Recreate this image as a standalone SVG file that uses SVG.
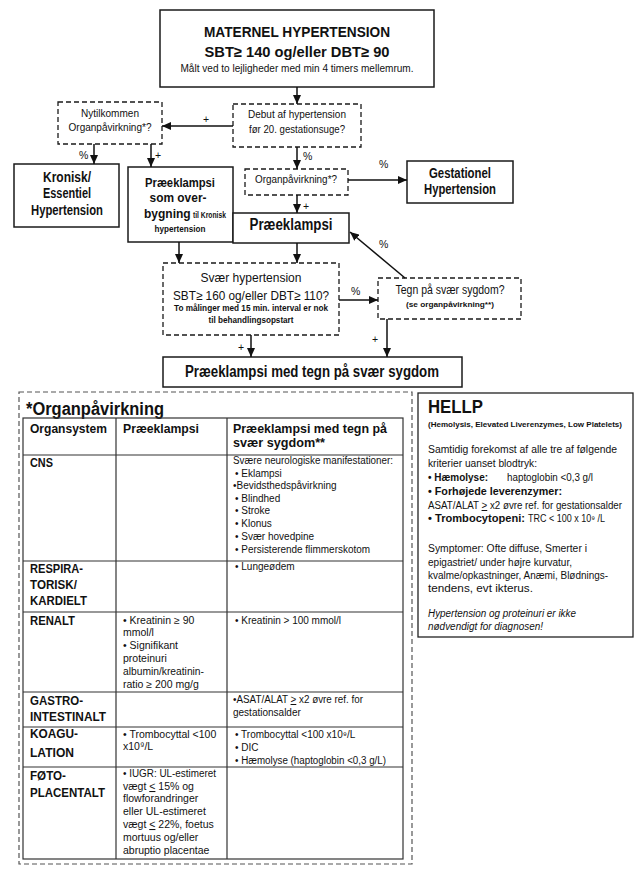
<svg xmlns="http://www.w3.org/2000/svg" width="644" height="880" viewBox="0 0 644 880">
<style>
text{font-family:"Liberation Sans",Arial,sans-serif;fill:#111}
.b{font-weight:bold}
.i{font-style:italic}
.m{text-anchor:middle}
.box{fill:#fff;stroke:#1a1a1a;stroke-width:1.5}
.dbox{fill:#fff;stroke:#1a1a1a;stroke-width:1.3;stroke-dasharray:5,3}
.conn line{stroke:#111;stroke-width:1.5;marker-end:url(#ah)}
.lbl{font-size:10.5px}
.tl{stroke:#333;stroke-width:1.2}
.u{text-decoration:underline}
</style>
<defs>
<marker id="ah" markerUnits="userSpaceOnUse" markerWidth="9" markerHeight="8" refX="9" refY="4" orient="auto">
<path d="M0,0 L9,4 L0,8 z" fill="#111"/>
</marker>
</defs>
<rect width="644" height="880" fill="#fff"/>

<g id="maternel">
<rect class="box" x="160" y="10" width="274" height="77"/>
<text class="b m" x="297" y="37" font-size="15" textLength="186" lengthAdjust="spacingAndGlyphs">MATERNEL HYPERTENSION</text>
<text class="b m" x="297" y="57" font-size="15" textLength="185" lengthAdjust="spacingAndGlyphs">SBT≥ 140 og/eller DBT≥ 90</text>
<text class="m" x="297" y="72" font-size="10.5" textLength="233" lengthAdjust="spacingAndGlyphs">Målt ved to lejligheder med min 4 timers mellemrum.</text>
</g>

<g id="debut">
<rect class="dbox" x="233" y="104" width="128" height="43"/>
<text class="m" x="297" y="118" font-size="11" textLength="98" lengthAdjust="spacingAndGlyphs">Debut af hypertension</text>
<text class="m" x="297" y="133" font-size="11" textLength="96" lengthAdjust="spacingAndGlyphs">før 20. gestationsuge?</text>
</g>

<g id="nytilkommen">
<rect class="dbox" x="58" y="102" width="104" height="42"/>
<text class="m" x="110" y="117" font-size="11" textLength="58" lengthAdjust="spacingAndGlyphs">Nytilkommen</text>
<text class="m" x="110" y="131" font-size="11" textLength="83" lengthAdjust="spacingAndGlyphs">Organpåvirkning*?</text>
</g>

<g id="kronisk">
<rect class="box" x="14" y="164" width="105" height="63"/>
<text class="b m" x="67" y="182" font-size="14" textLength="48" lengthAdjust="spacingAndGlyphs">Kronisk/</text>
<text class="b m" x="67" y="198" font-size="14" textLength="48" lengthAdjust="spacingAndGlyphs">Essentiel</text>
<text class="b m" x="67" y="215" font-size="14" textLength="72" lengthAdjust="spacingAndGlyphs">Hypertension</text>
</g>

<g id="overbygning">
<rect class="box" x="128" y="167" width="105" height="75"/>
<text class="b m" x="180" y="187" font-size="13.5" textLength="70" lengthAdjust="spacingAndGlyphs">Præeklampsi</text>
<text class="b m" x="178" y="202" font-size="13" textLength="57" lengthAdjust="spacingAndGlyphs">som over-</text>
<text class="b" x="144" y="218" font-size="12">bygning</text>
<text class="b" x="193" y="218" font-size="8.5" textLength="33" lengthAdjust="spacingAndGlyphs">til Kronisk</text>
<text class="b m" x="180" y="232" font-size="8.5" textLength="51" lengthAdjust="spacingAndGlyphs">hypertension</text>
</g>

<g id="praeeklampsi">
<rect class="box" x="233" y="213" width="116" height="30"/>
<text class="b m" x="291" y="230" font-size="16" textLength="83" lengthAdjust="spacingAndGlyphs">Præeklampsi</text>
</g>

<g id="organ">
<rect class="dbox" x="245" y="169" width="103" height="26"/>
<text class="m" x="296" y="183" font-size="11" textLength="82" lengthAdjust="spacingAndGlyphs">Organpåvirkning*?</text>
</g>

<g id="gestationel">
<rect class="box" x="407" y="161" width="106" height="42"/>
<text class="b m" x="460" y="178" font-size="14" textLength="62" lengthAdjust="spacingAndGlyphs">Gestationel</text>
<text class="b m" x="460" y="194" font-size="14" textLength="72" lengthAdjust="spacingAndGlyphs">Hypertension</text>
</g>

<g id="svaer">
<rect class="dbox" x="163" y="263" width="176" height="72"/>
<text class="m" x="251" y="282" font-size="13" textLength="101" lengthAdjust="spacingAndGlyphs">Svær hypertension</text>
<text class="m" x="251" y="300" font-size="13" textLength="156" lengthAdjust="spacingAndGlyphs">SBT≥ 160 og/eller DBT≥ 110?</text>
<text class="b m" x="251" y="311" font-size="8.5" textLength="154" lengthAdjust="spacingAndGlyphs">To målinger med 15 min. interval er nok</text>
<text class="b m" x="251" y="323" font-size="8.5" textLength="85" lengthAdjust="spacingAndGlyphs">til behandlingsopstart</text>
</g>

<g id="tegn">
<rect class="dbox" x="378" y="278" width="143" height="41"/>
<text class="m" x="450" y="294" font-size="12" textLength="109" lengthAdjust="spacingAndGlyphs">Tegn på svær sygdom?</text>
<text class="b m" x="450" y="307" font-size="8" textLength="88" lengthAdjust="spacingAndGlyphs">(se organpåvirkning**)</text>
</g>

<g id="svaer-sygdom">
<rect class="box" x="163" y="357" width="299" height="30"/>
<text class="b m" x="312" y="377" font-size="16" textLength="254" lengthAdjust="spacingAndGlyphs">Præeklampsi med tegn på svær sygdom</text>
</g>

<g id="connectors" class="conn">
<line x1="297" y1="87" x2="297" y2="104"/>
<line x1="233" y1="126" x2="162" y2="126"/>
<line x1="94" y1="144" x2="94" y2="164"/>
<line x1="151" y1="144" x2="151" y2="167"/>
<line x1="297" y1="147" x2="297" y2="169"/>
<line x1="348" y1="180" x2="407" y2="180"/>
<line x1="297" y1="195" x2="297" y2="213"/>
<line x1="179" y1="242" x2="179" y2="263"/>
<line x1="297" y1="243" x2="297" y2="263"/>
<line x1="339" y1="300" x2="378" y2="300"/>
<line x1="405" y1="278" x2="350" y2="232"/>
<line x1="251" y1="335" x2="251" y2="357"/>
<line x1="387" y1="319" x2="387" y2="357"/>
</g>

<g id="connector-labels" class="lbl">
<text x="203" y="123">+</text>
<text x="79" y="159">%</text>
<text x="155" y="159">+</text>
<text x="303" y="160">%</text>
<text x="379" y="168">%</text>
<text x="303" y="210">+</text>
<text x="351" y="295">%</text>
<text x="379" y="248">%</text>
<text x="238" y="351">+</text>
<text x="372" y="343">+</text>
</g>

<g id="organpaavirkning">
<rect x="19" y="392" width="393" height="472" fill="none" stroke="#555" stroke-width="1.2" stroke-dasharray="5,3"/>
<text class="b" x="26" y="415" font-size="18" textLength="138" lengthAdjust="spacingAndGlyphs">*Organpåvirkning</text>
<rect x="23" y="418" width="380" height="441" fill="none" class="tl"/>
<line class="tl" x1="116" y1="418" x2="116" y2="859"/>
<line class="tl" x1="227" y1="418" x2="227" y2="859"/>
<line class="tl" x1="23" y1="455" x2="403" y2="455"/>
<line class="tl" x1="23" y1="561" x2="403" y2="561"/>
<line class="tl" x1="23" y1="612" x2="403" y2="612"/>
<line class="tl" x1="23" y1="692" x2="403" y2="692"/>
<line class="tl" x1="23" y1="727" x2="403" y2="727"/>
<line class="tl" x1="23" y1="767" x2="403" y2="767"/>

<g class="b" font-size="13">
<text x="30" y="433" textLength="77" lengthAdjust="spacingAndGlyphs">Organsystem</text>
<text x="123" y="433" textLength="76" lengthAdjust="spacingAndGlyphs">Præeklampsi</text>
<text x="233" y="433" textLength="154" lengthAdjust="spacingAndGlyphs">Præeklampsi med tegn på</text>
<text x="233" y="447" textLength="92" lengthAdjust="spacingAndGlyphs">svær sygdom**</text>
<text x="30" y="467" textLength="23" lengthAdjust="spacingAndGlyphs">CNS</text>
<text x="30" y="573" textLength="53" lengthAdjust="spacingAndGlyphs">RESPIRA-</text>
<text x="30" y="589" textLength="47" lengthAdjust="spacingAndGlyphs">TORISK/</text>
<text x="30" y="605" textLength="57" lengthAdjust="spacingAndGlyphs">KARDIELT</text>
<text x="30" y="625" textLength="45" lengthAdjust="spacingAndGlyphs">RENALT</text>
<text x="30" y="705" textLength="53" lengthAdjust="spacingAndGlyphs">GASTRO-</text>
<text x="30" y="721" textLength="76" lengthAdjust="spacingAndGlyphs">INTESTINALT</text>
<text x="30" y="738" textLength="48" lengthAdjust="spacingAndGlyphs">KOAGU-</text>
<text x="30" y="757" textLength="44" lengthAdjust="spacingAndGlyphs">LATION</text>
<text x="30" y="780" textLength="36" lengthAdjust="spacingAndGlyphs">FØTO-</text>
<text x="30" y="797" textLength="75" lengthAdjust="spacingAndGlyphs">PLACENTALT</text>
</g>

<g font-size="10">
<text x="233" y="464" textLength="160" lengthAdjust="spacingAndGlyphs">Svære neurologiske manifestationer:</text>
<text x="235" y="477">• Eklampsi</text>
<text x="233" y="489">•Bevidsthedspåvirkning</text>
<text x="235" y="502">• Blindhed</text>
<text x="235" y="514">• Stroke</text>
<text x="235" y="527">• Klonus</text>
<text x="235" y="540">• Svær hovedpine</text>
<text x="235" y="553" textLength="135" lengthAdjust="spacingAndGlyphs">• Persisterende flimmerskotom</text>
<text x="235" y="570">• Lungeødem</text>
<text x="235" y="624">• Kreatinin &gt; 100 mmol/l</text>
<text x="233" y="703" textLength="130" lengthAdjust="spacingAndGlyphs">•ASAT/ALAT <tspan class="u">&gt;</tspan> x2 øvre ref. for</text>
<text x="233" y="716">gestationsalder</text>
<text x="235" y="738">• Trombocyttal &lt;100 x10⁹/L</text>
<text x="235" y="751">• DIC</text>
<text x="235" y="764" textLength="151" lengthAdjust="spacingAndGlyphs">• Hæmolyse (haptoglobin &lt;0,3 g/L)</text>
</g>

<g font-size="10.5">
<text x="123" y="624">• Kreatinin ≥ 90</text>
<text x="123" y="636">mmol/l</text>
<text x="123" y="649">• Signifikant</text>
<text x="123" y="662">proteinuri</text>
<text x="123" y="675" textLength="81" lengthAdjust="spacingAndGlyphs">albumin/kreatinin-</text>
<text x="123" y="688">ratio ≥ 200 mg/g</text>
<text x="123" y="738">• Trombocyttal &lt;100</text>
<text x="123" y="750">x10⁹/L</text>
<text x="123" y="777" textLength="93" lengthAdjust="spacingAndGlyphs">• IUGR: UL-estimeret</text>
<text x="123" y="790">vægt <tspan class="u">&lt;</tspan> 15% og</text>
<text x="123" y="802">flowforandringer</text>
<text x="123" y="815">eller UL-estimeret</text>
<text x="123" y="828">vægt <tspan class="u">&lt;</tspan> 22%, foetus</text>
<text x="123" y="841">mortuus og/eller</text>
<text x="123" y="854">abruptio placentae</text>
</g>
</g>

<g id="hellp">
<rect x="418" y="393" width="215" height="244" fill="#fff" stroke="#222" stroke-width="1.3"/>
<text class="b" x="428" y="413" font-size="18" textLength="55" lengthAdjust="spacingAndGlyphs">HELLP</text>
<text class="b" x="428" y="427" font-size="7.5" textLength="194" lengthAdjust="spacingAndGlyphs">(Hemolysis, Elevated Liverenzymes, Low Platelets)</text>
<g font-size="10">
<text x="428" y="453" textLength="189" lengthAdjust="spacingAndGlyphs">Samtidig forekomst af alle tre af følgende</text>
<text x="428" y="467" textLength="109" lengthAdjust="spacingAndGlyphs">kriterier uanset blodtryk:</text>
<text class="b" x="428" y="481" textLength="60" lengthAdjust="spacingAndGlyphs">• Hæmolyse:</text>
<text x="507" y="481" textLength="86" lengthAdjust="spacingAndGlyphs">haptoglobin &lt;0,3 g/l</text>
<text class="b" x="428" y="495" textLength="134" lengthAdjust="spacingAndGlyphs">• Forhøjede leverenzymer:</text>
<text x="428" y="509" textLength="194" lengthAdjust="spacingAndGlyphs">ASAT/ALAT <tspan class="u">&gt;</tspan> x2 øvre ref. for gestationsalder</text>
<text class="b" x="428" y="522" textLength="97" lengthAdjust="spacingAndGlyphs">• Trombocytopeni:</text>
<text x="528" y="522" textLength="77" lengthAdjust="spacingAndGlyphs">TRC &lt; 100 x 10⁹ /L</text>
<text x="428" y="552" textLength="159" lengthAdjust="spacingAndGlyphs">Symptomer: Ofte diffuse, Smerter i</text>
<text x="428" y="566" textLength="144" lengthAdjust="spacingAndGlyphs">epigastriet/ under højre kurvatur,</text>
<text x="428" y="579" textLength="180" lengthAdjust="spacingAndGlyphs">kvalme/opkastninger, Anæmi, Blødnings-</text>
<text x="428" y="592" textLength="105" lengthAdjust="spacingAndGlyphs">tendens, evt ikterus.</text>
<text class="i" x="428" y="617" textLength="148" lengthAdjust="spacingAndGlyphs">Hypertension og proteinuri er ikke</text>
<text class="i" x="428" y="630" textLength="115" lengthAdjust="spacingAndGlyphs">nødvendigt for diagnosen!</text>
</g>
</g>
</svg>
